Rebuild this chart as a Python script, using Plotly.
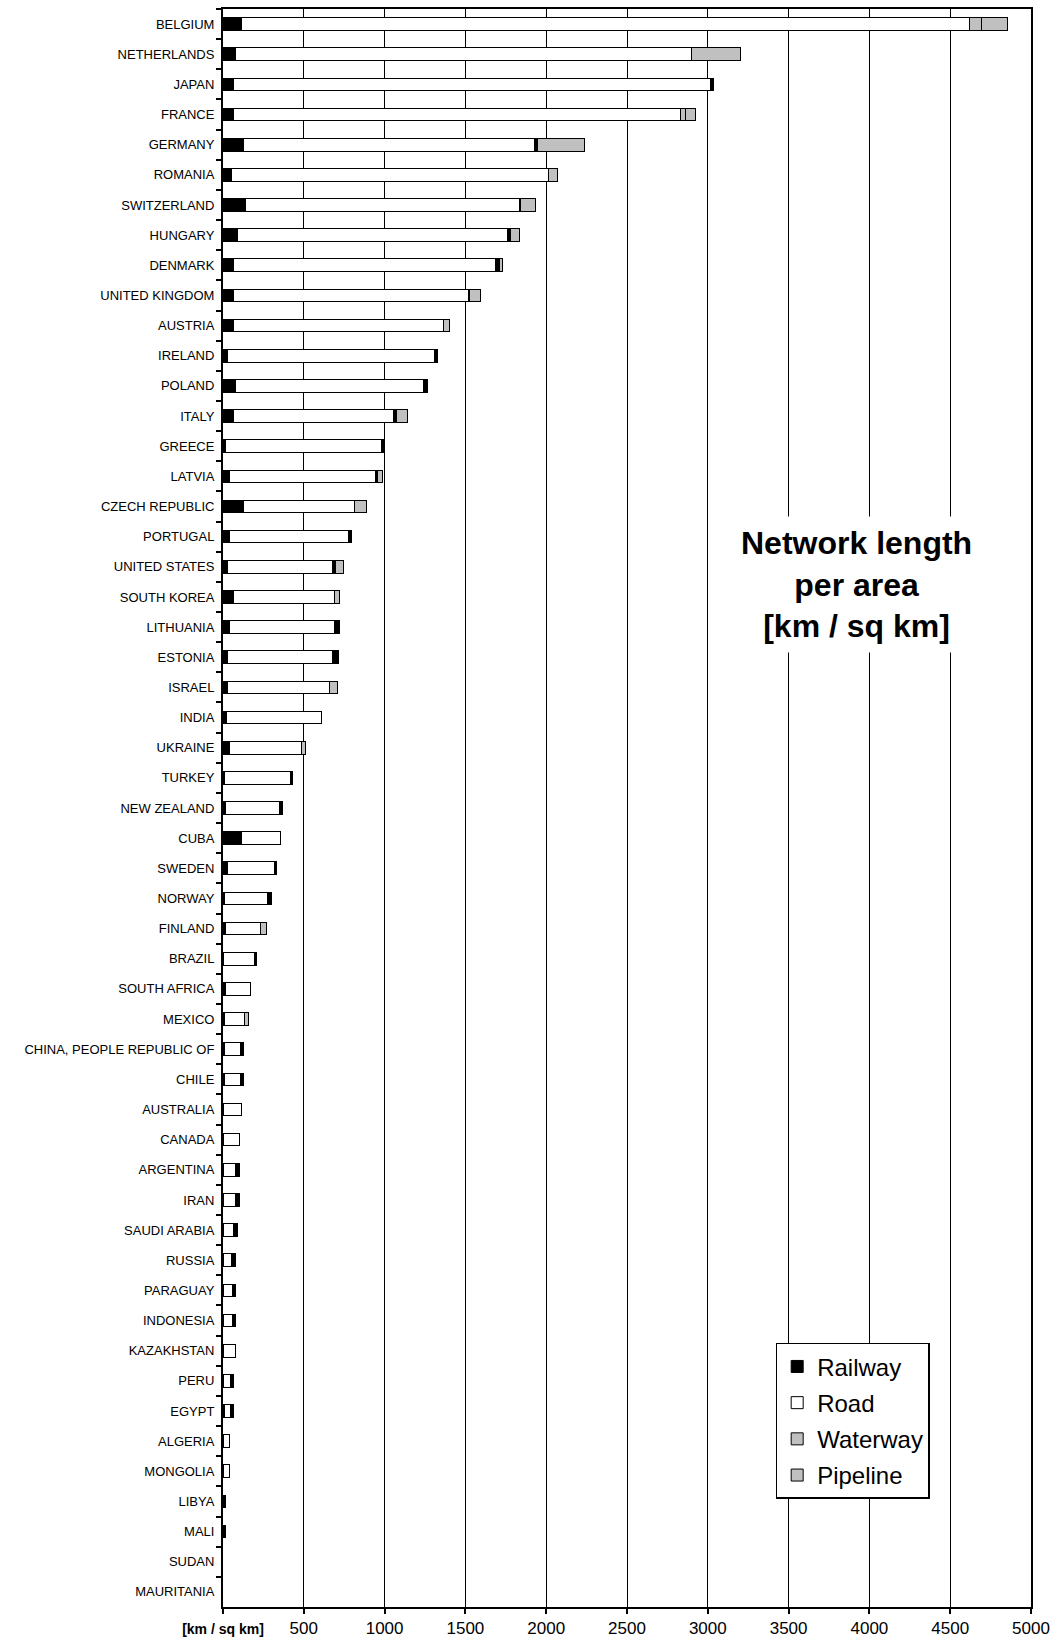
import plotly.graph_objects as go

countries = ["BELGIUM", "NETHERLANDS", "JAPAN", "FRANCE", "GERMANY", "ROMANIA", "SWITZERLAND",
             "HUNGARY", "DENMARK", "UNITED KINGDOM", "AUSTRIA", "IRELAND", "POLAND", "ITALY",
             "GREECE", "LATVIA", "CZECH REPUBLIC", "PORTUGAL", "UNITED STATES", "SOUTH KOREA",
             "LITHUANIA", "ESTONIA", "ISRAEL", "INDIA", "UKRAINE", "TURKEY", "NEW ZEALAND",
             "CUBA", "SWEDEN", "NORWAY", "FINLAND", "BRAZIL", "SOUTH AFRICA", "MEXICO",
             "CHINA, PEOPLE REPUBLIC OF", "CHILE", "AUSTRALIA", "CANADA", "ARGENTINA", "IRAN",
             "SAUDI ARABIA", "RUSSIA", "PARAGUAY", "INDONESIA", "KAZAKHSTAN", "PERU", "EGYPT",
             "ALGERIA", "MONGOLIA", "LIBYA", "MALI", "SUDAN", "MAURITANIA"]

railway = [115, 78, 65, 65, 127, 55, 142, 92, 65, 65, 65, 28, 78, 65,
           16, 41, 127, 41, 28, 65, 41, 28, 28, 19, 41, 12, 15,
           115, 28, 12, 15, 5, 15, 12, 8, 10, 5, 5, 5, 5,
           3, 5, 2, 2, 5, 3, 8, 3, 3, None, None, None, None]

road = [4507, 2819, 2949, 2768, 1798, 1962, 1690, 1668, 1624, 1455, 1297, 1280, 1163, 992,
        966, 904, 688, 733, 650, 625, 647, 650, 629, 591, 446, 403, 334,
        238, 288, 265, 215, 188, 158, 121, 99, 97, 108, 95, 73, 73,
        62, 50, 58, 58, 73, 42, 37, 38, 38, 6, 6, None, None]

# narrow dark end segments visible in the picture (not listed in the legend)
other = [None, None, 20, None, 20, None, 12, 21, 20, 5, 5, 21, 26, 15,
         20, 10, None, 21, 20, None, 35, 35, None, None, None, 16, 21,
         None, 17, 21, None, 16, None, None, 18, 18, None, None, 22, 22,
         23, 23, 18, 18, None, 18, 18, None, None, 8, 8, None, None]

waterway = [72, 308, None, 27, 294, 50, 87, 56, 23, 71, 34, None, None, 72,
            None, 33, 76, None, 48, 33, None, None, 52, None, 26, None, None,
            None, None, None, 41, None, None, 27, None, None, None, None, None, None,
            None, None, None, None, None, None, None, None, None, None, None, None, None]

pipeline = [160, None, None, 63, None, None, None, None, None, None, None, None, None, None,
            None, None, None, None, None, None, None, None, None, None, None, None, None,
            None, None, None, None, None, None, None, None, None, None, None, None, None,
            None, None, None, None, None, None, None, None, None, None, None, None, None]

x_ticks = [0, 500, 1000, 1500, 2000, 2500, 3000, 3500, 4000, 4500, 5000]
x_ticktext = ['<span style="font-size:14px"><b>[km / sq km]</b></span>', "500", "1000", "1500",
              "2000", "2500", "3000", "3500", "4000", "4500", "5000"]

FONT = "Liberation Sans, Arial, sans-serif"
line = dict(color="black", width=1)

fig = go.Figure()
fig.add_trace(go.Bar(y=countries, x=railway, name="Railway", orientation="h",
                     marker=dict(color="black", line=line), legendgroup="a"))
fig.add_trace(go.Bar(y=countries, x=road, name="Road", orientation="h",
                     marker=dict(color="white", line=line), legendgroup="b"))
fig.add_trace(go.Bar(y=countries, x=other, name="Other", orientation="h", showlegend=False,
                     marker=dict(color="black", line=line), legendgroup="e"))
fig.add_trace(go.Bar(y=countries, x=waterway, name="Waterway", orientation="h",
                     marker=dict(color="#c0c0c0", line=line), legendgroup="c"))
fig.add_trace(go.Bar(y=countries, x=pipeline, name="Pipeline", orientation="h",
                     marker=dict(color="#c0c0c0", line=line), legendgroup="d"))

fig.add_annotation(x=3920, y=0.640, xref="x", yref="paper",
                   text="<b>Network length<br>per area<br>[km / sq km]</b>",
                   showarrow=False, font=dict(family=FONT, size=32, color="black"),
                   bgcolor="white", borderpad=8, align="center")

fig.update_layout(
    width=1057, height=1645,
    margin=dict(l=223, r=23, t=7, b=37),
    barmode="stack", bargap=0.58,
    plot_bgcolor="white", paper_bgcolor="white",
    font=dict(family=FONT, color="black"),
    legend=dict(x=0.684, y=0.1653, xanchor="left", yanchor="top",
                bgcolor="white", bordercolor="black", borderwidth=1.5,
                font=dict(family=FONT, size=24, color="black"),
                traceorder="grouped", tracegroupgap=2),
    showlegend=True,
)
fig.update_xaxes(range=[0, 5000], tickvals=x_ticks, ticktext=x_ticktext,
                 tickfont=dict(family=FONT, size=17, color="black"),
                 showgrid=True, gridcolor="black", gridwidth=1,
                 showline=True, linecolor="black", linewidth=2, mirror=True,
                 ticks="outside", ticklen=5, tickwidth=2, tickcolor="black",
                 zeroline=False, fixedrange=True)
fig.update_yaxes(categoryorder="array", categoryarray=countries, autorange="reversed",
                 tickfont=dict(family=FONT, size=13, color="black"),
                 showline=True, linecolor="black", linewidth=2, mirror=True,
                 ticks="outside", ticklen=5, tickwidth=2, tickcolor="black",
                 tickson="boundaries", showgrid=False, ticklabelstandoff=4, fixedrange=True)

fig.write_html("out.html", config={"displayModeBar": False},
               post_script="document.body.style.margin='0';")
